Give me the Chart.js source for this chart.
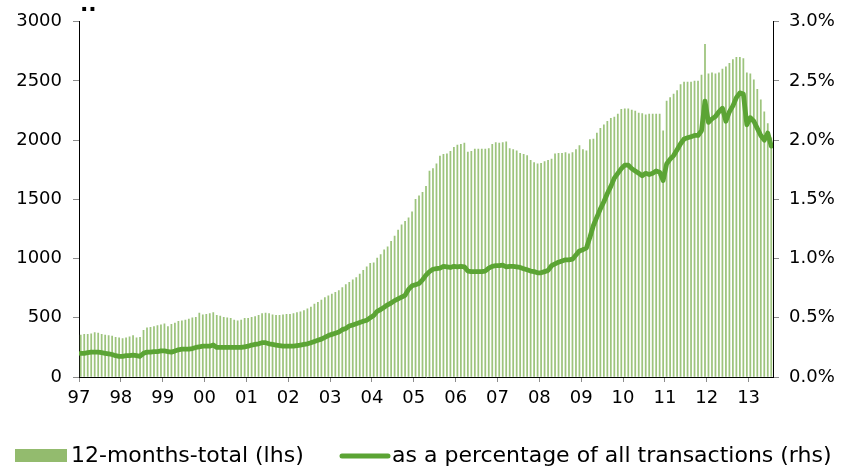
<!DOCTYPE html>
<html>
<head>
<meta charset="utf-8">
<script src="https://cdn.jsdelivr.net/npm/chart.js@4.4.0/dist/chart.umd.min.js"></script>
<style>
  html, body { margin: 0; padding: 0; background: #fff; }
</style>
</head>
<body>
<canvas id="chart" width="855" height="474"></canvas>
<script>
// year labels on the x axis, one every 12 months starting Jan 1997
const yearLabels = ['97', '98', '99', '00', '01', '02', '03', '04', '05', '06', '07', '08', '09', '10', '11', '12', '13']

// 12-months-total, monthly (lhs)
const totals = [
  355, 360, 360, 365, 375, 370, 360, 355, 350, 345, 335, 330,
  325, 330, 340, 350, 330, 335, 395, 415, 420, 425, 435, 440,
  450, 425, 445, 455, 470, 475, 480, 490, 500, 505, 540, 525,
  530, 535, 545, 520, 515, 505, 500, 495, 480, 475, 480, 495,
  495, 505, 510, 520, 535, 540, 535, 525, 520, 520, 525, 530,
  530, 535, 545, 550, 560, 575, 590, 615, 630, 650, 670, 685,
  700, 715, 730, 755, 780, 800, 820, 840, 870, 900, 930, 960,
  965, 1005, 1035, 1075, 1100, 1145, 1190, 1240, 1285, 1315, 1345, 1395,
  1500, 1530, 1560, 1610, 1740, 1760, 1800, 1865, 1880, 1885, 1905, 1940,
  1958, 1965, 1975, 1900, 1905, 1925, 1925, 1925, 1925, 1930, 1966, 1980,
  1975, 1980, 1986, 1930, 1920, 1910, 1890, 1880, 1870, 1830, 1810, 1800,
  1805, 1820, 1830, 1840, 1885, 1890, 1890, 1895, 1885, 1895, 1920, 1955,
  1920, 1910, 2005, 2010, 2060, 2100, 2130, 2160, 2185, 2195, 2220, 2260,
  2265, 2265, 2255, 2245, 2230, 2225, 2215, 2220, 2220, 2220, 2220, 2080,
  2330, 2360, 2390, 2420, 2470, 2490, 2490, 2490, 2500, 2500, 2550, 2810,
  2560, 2570, 2560, 2570, 2600, 2620, 2650, 2680, 2700, 2700, 2690, 2570,
  2560, 2510, 2430, 2340, 2240, 2140, 2020
]

// share of all transactions in %, monthly (rhs)
const shares = [
  0.20, 0.20, 0.205, 0.21, 0.21, 0.21, 0.205, 0.20, 0.195, 0.19, 0.18, 0.175,
  0.175, 0.18, 0.18, 0.185, 0.18, 0.175, 0.20, 0.21, 0.21, 0.215, 0.215, 0.22,
  0.22, 0.215, 0.21, 0.22, 0.23, 0.235, 0.235, 0.235, 0.24, 0.25, 0.255, 0.26,
  0.26, 0.26, 0.27, 0.25, 0.25, 0.25, 0.25, 0.25, 0.25, 0.25, 0.25, 0.255,
  0.26, 0.27, 0.275, 0.28, 0.29, 0.29, 0.28, 0.275, 0.27, 0.265, 0.26, 0.26,
  0.26, 0.26, 0.265, 0.27, 0.275, 0.28, 0.29, 0.30, 0.31, 0.32, 0.335, 0.35,
  0.36, 0.37, 0.38, 0.40, 0.41, 0.43, 0.44, 0.45, 0.46, 0.47, 0.48, 0.50,
  0.52, 0.555, 0.57, 0.59, 0.61, 0.625, 0.645, 0.66, 0.675, 0.69, 0.74, 0.77,
  0.78, 0.79, 0.82, 0.86, 0.89, 0.91, 0.915, 0.92, 0.935, 0.93, 0.925, 0.935,
  0.93, 0.935, 0.93, 0.895, 0.89, 0.89, 0.89, 0.89, 0.895, 0.92, 0.935, 0.94,
  0.94, 0.945, 0.93, 0.935, 0.935, 0.93, 0.925, 0.915, 0.905, 0.895, 0.89, 0.88,
  0.88, 0.89, 0.90, 0.94, 0.955, 0.97, 0.98, 0.99, 0.99, 0.995, 1.03, 1.065,
  1.075, 1.09, 1.18, 1.28, 1.35, 1.42, 1.48, 1.55, 1.61, 1.68, 1.72, 1.76,
  1.79, 1.79, 1.76, 1.74, 1.72, 1.70, 1.72, 1.71, 1.72, 1.74, 1.73, 1.66,
  1.80, 1.84, 1.87, 1.92, 1.97, 2.01, 2.02, 2.03, 2.04, 2.04, 2.08, 2.33,
  2.15, 2.18, 2.20, 2.24, 2.27, 2.16, 2.24, 2.29, 2.36, 2.40, 2.39, 2.13,
  2.19, 2.16, 2.10, 2.04, 2.00, 2.06, 1.95
]

const barColor = '#9dc47d'
const swatchColor = '#93bb6e'
const lineColor = '#5ba434'
const font = 'DejaVu Sans'

// each month sits in the middle of its slot on a linear month axis
const toPoints = (arr) => arr.map((v, i) => ({ x: i + 0.5, y: v }))

// legend drawn underneath: swatch box for bars, thick stroke for the line
const bottomLegend = {
  id: 'bottomLegend',
  afterDraw(chart) {
    const ctx = chart.ctx
    ctx.save()
    ctx.font = '22px "' + font + '"'
    ctx.textBaseline = 'middle'

    ctx.fillStyle = swatchColor
    ctx.fillRect(15, 449, 52, 13)
    ctx.fillStyle = '#000'
    ctx.fillText('12-months-total (lhs)', 71, 456)

    ctx.strokeStyle = lineColor
    ctx.lineWidth = 5
    ctx.lineCap = 'round'
    ctx.beginPath()
    ctx.moveTo(342, 456)
    ctx.lineTo(388, 456)
    ctx.stroke()
    ctx.fillText('as a percentage of all transactions (rhs)', 392, 456)

    // stray marks above the left axis
    ctx.font = 'bold 22px "' + font + '"'
    ctx.textBaseline = 'alphabetic'
    ctx.fillText('..', 80, 11)
    ctx.restore()
  }
}

const axisTicks = { color: '#000', font: { family: font, size: 18 } }

new Chart(document.querySelector('#chart'), {
  type: 'bar',
  data: {
    datasets: [
      {
        type: 'line',
        label: 'as a percentage of all transactions (rhs)',
        data: toPoints(shares),
        yAxisID: 'y1',
        borderColor: lineColor,
        borderWidth: 4.8,
        borderJoinStyle: 'round',
        borderCapStyle: 'round',
        pointRadius: 0,
        tension: 0,
        order: 0
      },
      {
        label: '12-months-total (lhs)',
        data: toPoints(totals),
        yAxisID: 'y',
        backgroundColor: barColor,
        barThickness: 1.1,
        order: 1
      }
    ]
  },
  options: {
    responsive: false,
    animation: false,
    layout: { padding: { top: 18, left: 0, right: 0, bottom: 0 } },
    plugins: {
      legend: { display: false },
      tooltip: { enabled: false }
    },
    scales: {
      x: {
        type: 'linear',
        min: 0,
        max: totals.length,
        offset: false,
        grid: { offset: false, drawOnChartArea: false, color: '#8c8c8c', tickLength: 5 },
        border: { color: '#000', width: 1 },
        ticks: {
          ...axisTicks,
          stepSize: 12,
          includeBounds: false,
          autoSkip: false,
          maxRotation: 0,
          padding: 6,
          callback: (v) => (v % 12 === 0 ? yearLabels[v / 12] : '')
        },
        afterFit: (scale) => { scale.height = 97 }
      },
      y: {
        position: 'left',
        min: 0,
        max: 3000,
        grid: { drawOnChartArea: false, color: '#8c8c8c', tickLength: 6 },
        border: { color: '#000', width: 1 },
        ticks: { ...axisTicks, stepSize: 500, padding: 11, callback: (v) => String(v) },
        afterFit: (scale) => { scale.width = 79 }
      },
      y1: {
        position: 'right',
        min: 0,
        max: 3,
        grid: { drawOnChartArea: false, color: '#8c8c8c', tickLength: 6 },
        border: { color: '#000', width: 1 },
        ticks: { ...axisTicks, stepSize: 0.5, padding: 10, callback: (v) => v.toFixed(1) + '%' },
        afterFit: (scale) => { scale.width = 82 }
      }
    }
  },
  plugins: [bottomLegend]
})
</script>
</body>
</html>
